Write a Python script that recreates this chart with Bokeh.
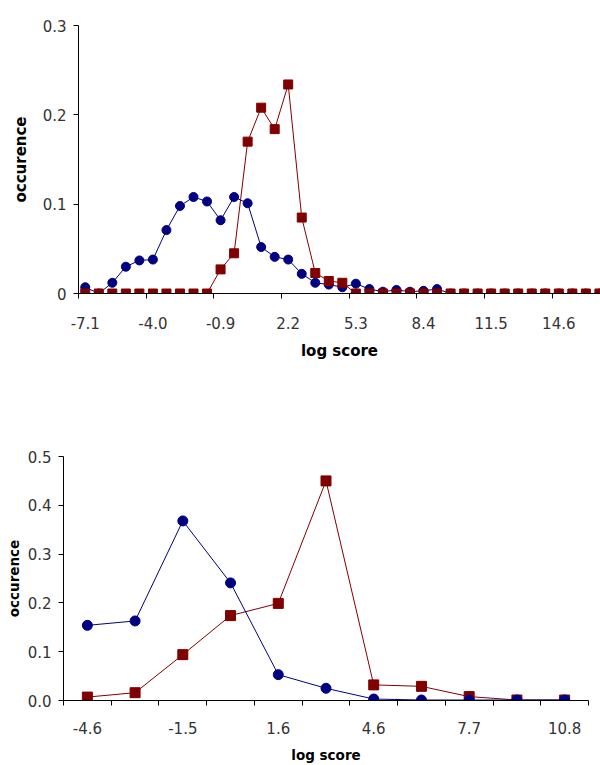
from bokeh.plotting import figure
from bokeh.models import Range1d, FixedTicker, PrintfTickFormatter, NumeralTickFormatter
from bokeh.embed import file_html
from bokeh.resources import INLINE

# ---------------- data ----------------
top_score = [-7.10, -6.48, -5.86, -5.24, -4.62, -4.00, -3.38, -2.76, -2.14, -1.52,
             -0.90, -0.28, 0.34, 0.96, 1.58, 2.20, 2.82, 3.44, 4.06, 4.68,
             5.30, 5.92, 6.54, 7.16, 7.78, 8.40, 9.02, 9.64, 10.26, 10.88,
             11.50, 12.12, 12.74, 13.36, 13.98, 14.60, 15.22, 15.84, 16.46]
top_blue = [0.007, 0.000, 0.012, 0.030, 0.037, 0.038, 0.071, 0.098, 0.108, 0.103,
            0.082, 0.108, 0.101, 0.052, 0.041, 0.038, 0.022, 0.012, 0.010, 0.007,
            0.011, 0.005, 0.002, 0.004, 0.002, 0.003, 0.005, 0.000, 0.000, 0.000,
            0.000, 0.000, 0.000, 0.000, 0.000, 0.000, 0.000, 0.000, 0.000]
top_red = [0.000, 0.000, 0.000, 0.000, 0.000, 0.000, 0.000, 0.000, 0.000, 0.000,
           0.027, 0.045, 0.170, 0.208, 0.184, 0.234, 0.085, 0.023, 0.014, 0.012,
           0.000, 0.000, 0.000, 0.000, 0.000, 0.000, 0.000, 0.000, 0.000, 0.000,
           0.000, 0.000, 0.000, 0.000, 0.000, 0.000, 0.000, 0.000, 0.000]
top_yticks = [0, 0.1, 0.2, 0.3]

bot_score = [-4.60, -3.06, -1.52, 0.02, 1.56, 3.10, 4.64, 6.18, 7.72, 9.26, 10.80]
bot_blue = [0.154, 0.163, 0.368, 0.241, 0.053, 0.025, 0.003, 0.001, 0.001, 0.001, 0.001]
bot_red = [0.007, 0.016, 0.094, 0.174, 0.199, 0.450, 0.032, 0.029, 0.008, 0.001, 0.001]
bot_yticks = [0, 0.1, 0.2, 0.3, 0.4, 0.5]

x_title = "log score"
y_title = "occurence"

NAVY = "#000080"
MAROON = "#800000"
FONT = "DejaVu Sans"
TICK_COLOR = "#333333"


def style(p, major, minor, y_ticks, y_fmt, title_size, x_std, x_title_std, y_title_std):
    p.grid.visible = False
    p.outline_line_color = None
    p.background_fill_color = "white"
    p.border_fill_color = "white"

    xa = p.xaxis[0]
    xa.ticker = FixedTicker(ticks=major, minor_ticks=minor)
    xa.formatter = PrintfTickFormatter(format="%.1f")
    xa.major_tick_in = 0
    xa.major_tick_out = 0
    xa.minor_tick_in = 0
    xa.minor_tick_out = 5
    xa.minor_tick_line_color = "black"
    xa.axis_line_color = "black"
    xa.major_label_standoff = x_std
    xa.axis_label = x_title
    xa.axis_label_standoff = x_title_std

    ya = p.yaxis[0]
    ya.ticker = FixedTicker(ticks=y_ticks, minor_ticks=[])
    ya.formatter = y_fmt
    ya.major_tick_in = 0
    ya.major_tick_out = 5
    ya.major_tick_line_color = "black"
    ya.axis_line_color = "black"
    ya.major_label_standoff = 7
    ya.axis_label = y_title
    ya.axis_label_standoff = y_title_std

    for ax in (xa, ya):
        ax.major_label_text_font = FONT
        ax.major_label_text_font_size = "15px"
        ax.major_label_text_color = TICK_COLOR
        ax.axis_label_text_font = FONT
        ax.axis_label_text_font_style = "bold"
        ax.axis_label_text_font_size = title_size
        ax.axis_label_text_color = "black"


# ---------------- top chart ----------------
t_half = (top_score[1] - top_score[0]) / 2.0
p1 = figure(width=600, height=380, output_backend="svg", toolbar_location=None,
            x_range=Range1d(top_score[0] - t_half, 16.51), y_range=Range1d(0, 0.3),
            min_border_left=78, min_border_right=0, min_border_top=25, min_border_bottom=87)
p1.line(top_score, top_blue, line_color=NAVY, line_width=1)
p1.scatter(top_score, top_blue, marker="circle", size=9, fill_color=NAVY, line_color=NAVY)
p1.line(top_score, top_red, line_color=MAROON, line_width=1)
p1.scatter(top_score, top_red, marker="square", size=9, fill_color=MAROON, line_color=MAROON)
top_minor = [top_score[i] - t_half for i in range(0, len(top_score), 5)]
style(p1, top_score[::5], top_minor, top_yticks, NumeralTickFormatter(format="0.[0]"),
      "15px", 18, 10, 10)

# ---------------- bottom chart ----------------
b_half = (bot_score[1] - bot_score[0]) / 2.0
p2 = figure(width=600, height=385, output_backend="svg", toolbar_location=None,
            x_range=Range1d(bot_score[0] - b_half, bot_score[-1] + b_half), y_range=Range1d(0, 0.5),
            min_border_left=63, min_border_right=12, min_border_top=76, min_border_bottom=63)
p2.line(bot_score, bot_red, line_color=MAROON, line_width=1)
p2.scatter(bot_score, bot_red, marker="square", size=10, fill_color=MAROON, line_color=MAROON)
p2.line(bot_score, bot_blue, line_color=NAVY, line_width=1)
p2.scatter(bot_score, bot_blue, marker="circle", size=10, fill_color=NAVY, line_color=NAVY)
bot_minor = [x - b_half for x in bot_score] + [bot_score[-1] + b_half]
style(p2, bot_score[::2], bot_minor, bot_yticks, NumeralTickFormatter(format="0.0"),
      "13.5px", 16, 10, 3)

open("out.html", "w").write(file_html([p1, p2], INLINE))
